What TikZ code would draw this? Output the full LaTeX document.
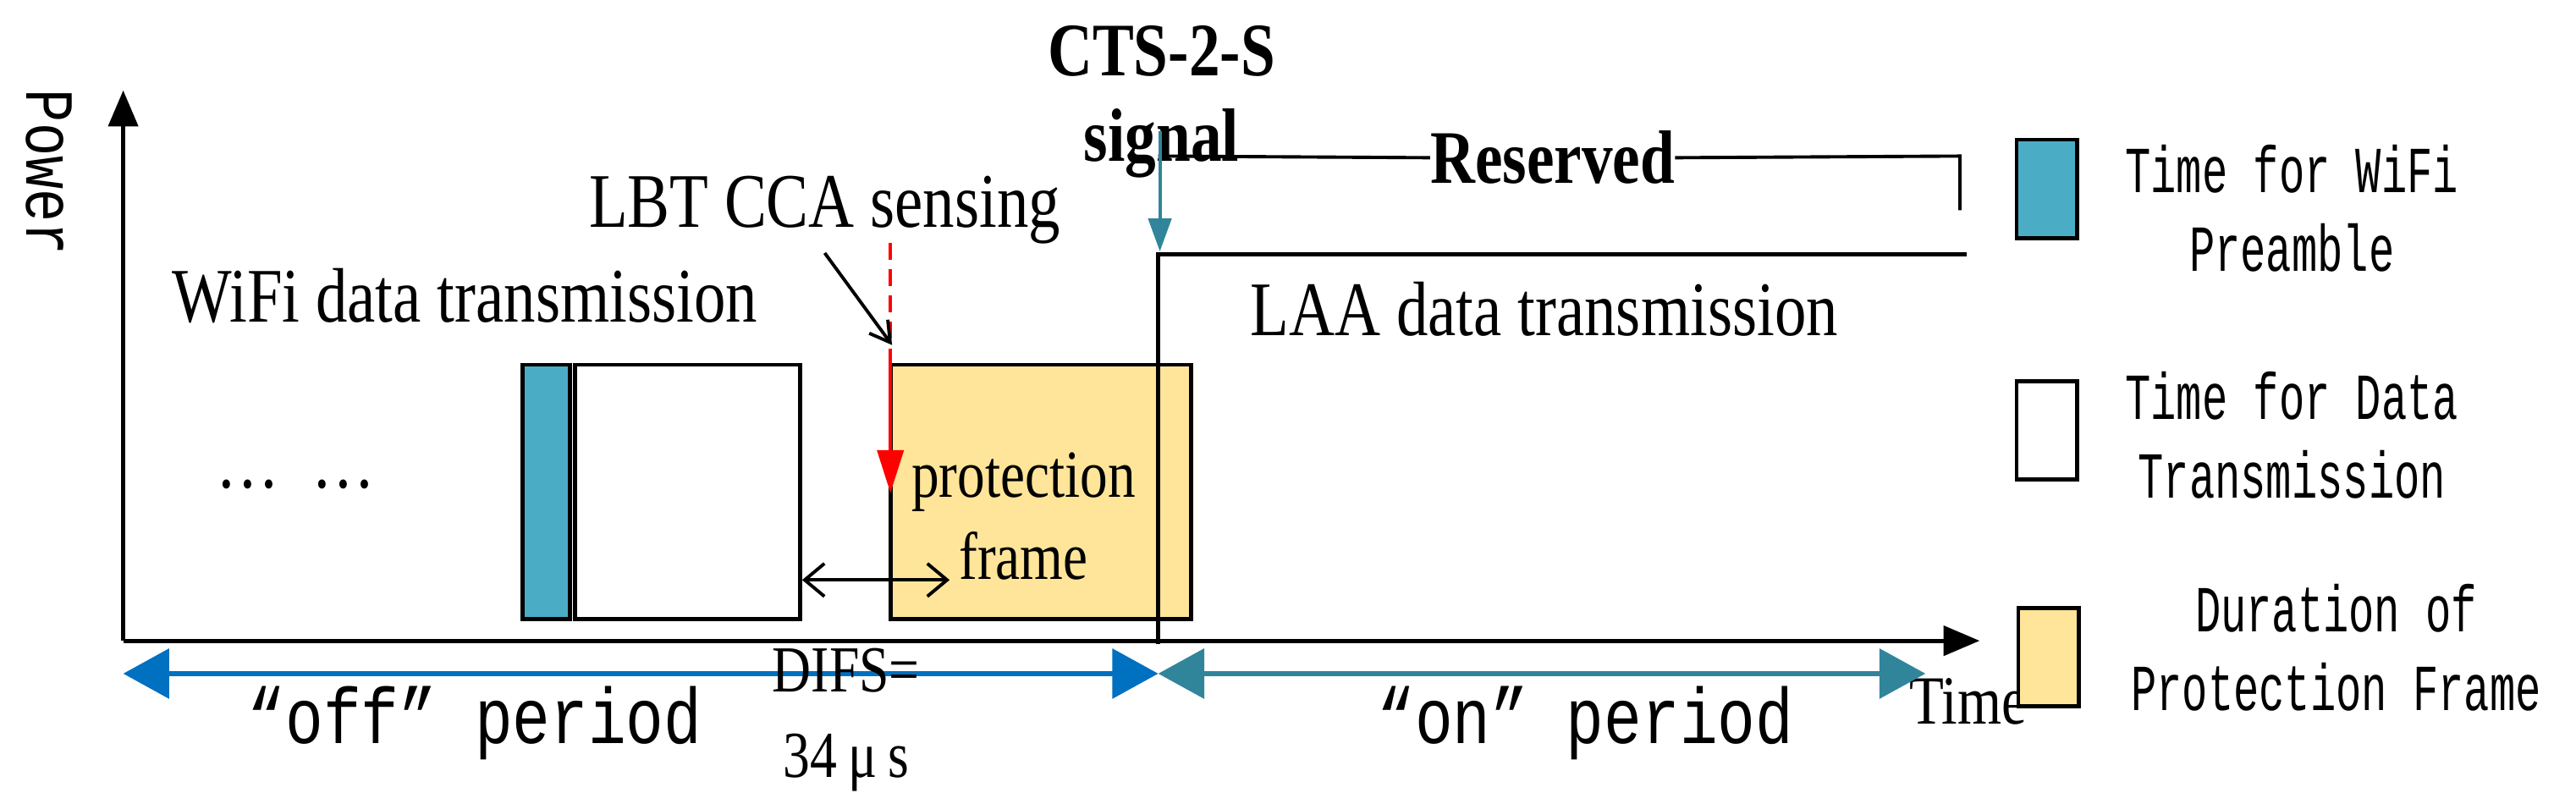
\documentclass[tikz,border=0pt]{standalone}
\usepackage{fontspec}
\setmainfont{Liberation Serif}[FakeStretch=0.82]
\newfontfamily\monof{Liberation Mono}[FakeStretch=0.65]
\newfontfamily\monob{Liberation Mono}[FakeStretch=0.8]
\usetikzlibrary{arrows.meta}
\definecolor{teal1}{RGB}{75,172,198}
\definecolor{teal2}{RGB}{49,133,155}
\definecolor{blue1}{RGB}{0,112,192}
\definecolor{yel}{RGB}{255,229,153}
\begin{document}
\begin{tikzpicture}[x=1pt,y=-1pt,
  box/.style={draw,line width=2.5pt},
  lbl/.style={font=\fontsize{47}{50}\selectfont,inner sep=0},
  blbl/.style={font=\fontsize{46}{50}\selectfont\bfseries,inner sep=0},
  mlbl/.style={font=\monof\fontsize{40}{44}\selectfont,inner sep=0,align=center},
  ax/.style={line width=2.5pt,-{Triangle[length=22,width=18]}},
  dbl/.style={line width=3pt,{Triangle[length=28,width=30]}-{Triangle[length=28,width=30]}}]
\useasboundingbox (0,0) rectangle (1568,489);
% axes
\coordinate (o) at (75,390);
\coordinate (ytop) at (75,55);
\coordinate (xend) at (1205,390);
\draw[ax] (o) -- (ytop);
\draw[ax] (o) -- (xend);
\node[inner sep=0,rotate=-90,font=\monob\fontsize{42}{44}\selectfont] (power) at (30,105) {Power};
\node[lbl,font=\fontsize{42}{46}\selectfont] (time) at (1198,427) {Time};
% boxes
\node[box,fill=teal1,minimum width=29,minimum height=155,inner sep=0] (pre) at (332.5,299.5) {};
\node[box,fill=white,minimum width=137,minimum height=155,inner sep=0] (dat) at (418.5,299.5) {};
\node[box,fill=yel,minimum width=183,minimum height=155,inner sep=0] (pf) at (633.5,299.5) {};
\node[lbl,font=\fontsize{41}{44}\selectfont,align=center] (pft) at (623,314) {protection\\[6pt]frame};
\node[lbl] (dots) at (180,295) {\ldots\ \ \ldots};
\node[lbl] (wifi) at (283,180) {WiFi data transmission};
\node[lbl] (lbt) at (502,128) {LBT CCA sensing};
% red sensing line
\coordinate (r0) at (542,148);
\coordinate (r1) at (542,222);
\coordinate (r2) at (542,300);
\draw[red,line width=2pt,dash pattern=on 10pt off 6pt] (r0) -- (r1);
\draw[red,line width=2pt,-{Triangle[length=26,width=16]}] (r1) -- (r2);
\coordinate (la) at (502,154);
\coordinate (lb) at (543,210);
\draw[line width=2pt,-{Straight Barb[length=12,width=14]}] (la) -- (lb);
% DIFS arrow
\draw[line width=2pt,{Straight Barb[length=12,width=20]}-{Straight Barb[length=12,width=20]}] (dat.east |- 0,353) -- (578,353);
% LAA step
\coordinate (s0) at (705,392);
\coordinate (s1) at (705,155);
\coordinate (s2) at (1197,155);
\draw[line width=2.5pt] (s0) -- (s1) -- (s2);
\node[lbl] (laa) at (940,188) {LAA data transmission};
% reserved
\node[blbl] (res) at (945,96) {Reserved};
\coordinate (b0) at (705,95);
\coordinate (b1) at (1193,95);
\coordinate (b2) at (1193,128);
\draw[line width=2pt] (b0) -- (res.west);
\draw[line width=2pt] (res.east) -- (b1) -- (b2);
\node[blbl,align=center] (cts) at (707,62) {CTS-2-S\\[2pt]signal};
\coordinate (c0) at (706,80);
\coordinate (c1) at (706,153);
\draw[teal2,line width=2pt,-{Triangle[length=20,width=14]}] (c0) -- (c1);
% periods
\coordinate (p0) at (75,410);
\coordinate (p1) at (705,410);
\coordinate (p2) at (1172,410);
\draw[dbl,blue1] (p0) -- (p1);
\draw[dbl,teal2] (p1) -- (p2);
\node[inner sep=0,font=\monob\fontsize{48}{50}\selectfont] (off) at (289,440) {“off” period};
\node[inner sep=0,font=\monob\fontsize{48}{50}\selectfont] (on) at (965,440) {“on” period};
\node[lbl,font=\fontsize{40}{44}\selectfont,align=center] (difs) at (515,438) {DIFS=\\[8pt]34\,μ\,s};
% legend
\node[box,fill=teal1,minimum width=37,minimum height=60,inner sep=0] (l1) at (1246,115) {};
\node[box,fill=white,minimum width=37,minimum height=60,inner sep=0] (l2) at (1246,262) {};
\node[box,fill=yel,minimum width=37,minimum height=60,inner sep=0] (l3) at (1247,400) {};
\node[mlbl] (t1) at (1395,127) {Time for WiFi\\[4pt]Preamble};
\node[mlbl] (t2) at (1395,265) {Time for Data\\[4pt]Transmission};
\node[mlbl] (t3) at (1422,394) {Duration of\\[4pt]Protection Frame};
\end{tikzpicture}
\end{document}
